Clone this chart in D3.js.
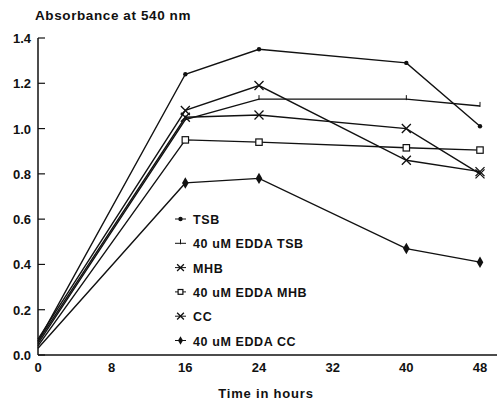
<!DOCTYPE html>
<html>
<head>
<meta charset="utf-8">
<script src="https://d3js.org/d3.v7.min.js"></script>
<style>
  body { margin: 0; background: #fff; }
  text { font-family: "Liberation Sans", Arial, sans-serif; font-weight: bold; fill: #111; }
</style>
</head>
<body>
<script>
// values
var hours = [0, 16, 24, 40, 48];
var tsb      = [0.06, 1.24, 1.35, 1.29, 1.01];
var eddaTsb  = [0.05, 1.04, 1.13, 1.13, 1.10];
var mhb      = [0.07, 1.08, 1.19, 0.86, 0.81];
var eddaMhb  = [0.04, 0.95, 0.94, 0.915, 0.905];
var cc       = [0.06, 1.05, 1.06, 1.00, 0.80];
var eddaCc   = [0.03, 0.76, 0.78, 0.47, 0.41];
var xTicks = [0, 8, 16, 24, 32, 40, 48];
var yTicks = [0, 0.2, 0.4, 0.6, 0.8, 1.0, 1.2, 1.4];

var series = [
  {name: "TSB", values: tsb, marker: "dot"},
  {name: "40 uM EDDA TSB", values: eddaTsb, marker: "tick"},
  {name: "MHB", values: mhb, marker: "xbar"},
  {name: "40 uM EDDA MHB", values: eddaMhb, marker: "square"},
  {name: "CC", values: cc, marker: "x"},
  {name: "40 uM EDDA CC", values: eddaCc, marker: "diamond"}
];

var width = 498, height = 402;
var svg = d3.select("body").append("svg")
  .attr("width", width).attr("height", height);

var x = d3.scaleLinear().domain([0, 48]).range([38, 480]);
var y = d3.scaleLinear().domain([0, 1.4]).range([355, 38]);

// axes
svg.append("line").attr("x1", 38).attr("x2", 497).attr("y1", y(0)).attr("y2", y(0))
  .attr("stroke", "#111").attr("stroke-width", 1.5);
svg.append("line").attr("x1", 38).attr("x2", 38).attr("y1", y(0)).attr("y2", y(1.4))
  .attr("stroke", "#111").attr("stroke-width", 1.5);

svg.selectAll(".ytick").data(yTicks).enter().append("line")
  .attr("x1", 38).attr("x2", 45)
  .attr("y1", function(d) { return y(d); }).attr("y2", function(d) { return y(d); })
  .attr("stroke", "#111").attr("stroke-width", 1.2);

svg.selectAll(".ylab").data(yTicks).enter().append("text")
  .attr("x", 31).attr("y", function(d) { return y(d) + 5; })
  .attr("text-anchor", "end").style("font-size", "13px")
  .text(function(d) { return d.toFixed(1); });

svg.selectAll(".xlab").data(xTicks).enter().append("text")
  .attr("x", function(d) { return x(d); }).attr("y", 372)
  .attr("text-anchor", "middle").style("font-size", "13px")
  .text(function(d) { return d; });

svg.append("text").attr("x", 35).attr("y", 20).style("font-size", "13.5px")
  .style("letter-spacing", "0.6px")
  .text("Absorbance at 540 nm");
svg.append("text").attr("x", 266).attr("y", 398).attr("text-anchor", "middle")
  .style("font-size", "13px").style("letter-spacing", "0.8px")
  .text("Time in hours");

// marker drawing
function drawMarker(g, type, cx, cy, k) {
  var s = "#111";
  if (type === "dot") {
    g.append("circle").attr("cx", cx).attr("cy", cy).attr("r", 2.2).attr("fill", s);
  } else if (type === "tick") {
    g.append("line").attr("x1", cx).attr("x2", cx).attr("y1", cy - 4).attr("y2", cy + 1)
      .attr("stroke", s).attr("stroke-width", 1);
  } else if (type === "x" || type === "xbar") {
    var r = 4.5 * k;
    g.append("path").attr("d", "M" + (cx - r) + "," + (cy - r) + "L" + (cx + r) + "," + (cy + r) +
      "M" + (cx - r) + "," + (cy + r) + "L" + (cx + r) + "," + (cy - r))
      .attr("stroke", s).attr("stroke-width", 1.3).attr("fill", "none");
  } else if (type === "square") {
    var h = 3.2 * k;
    g.append("rect").attr("x", cx - h).attr("y", cy - h).attr("width", 2 * h).attr("height", 2 * h)
      .attr("fill", "#fff").attr("stroke", s).attr("stroke-width", 1.2);
  } else if (type === "diamond") {
    g.append("path").attr("d", d3.symbol().type(d3.symbolDiamond).size(38 * k * k)())
      .attr("transform", "translate(" + cx + "," + cy + ")").attr("fill", s);
  }
}

var line = d3.line()
  .x(function(d, i) { return x(hours[i]); })
  .y(function(d) { return y(d); });

series.forEach(function(sr) {
  svg.append("path").datum(sr.values).attr("d", line)
    .attr("fill", "none").attr("stroke", "#111").attr("stroke-width", 1.4);
});
series.forEach(function(sr) {
  var g = svg.append("g");
  sr.values.forEach(function(v, i) {
    if (i === 0) return;
    drawMarker(g, sr.marker, x(hours[i]), y(v), 1);
  });
});

// legend
var leg = svg.append("g");
series.forEach(function(sr, i) {
  var ly = 219 + i * 24.3;
  leg.append("line").attr("x1", 175).attr("x2", 186).attr("y1", ly).attr("y2", ly)
    .attr("stroke", "#111").attr("stroke-width", 1);
  drawMarker(leg, sr.marker, 180.5, ly, 0.75);
  leg.append("text").attr("x", 193).attr("y", ly + 5)
    .style("font-size", "12.5px").style("letter-spacing", "0.6px").text(sr.name);
});
</script>
</body>
</html>
